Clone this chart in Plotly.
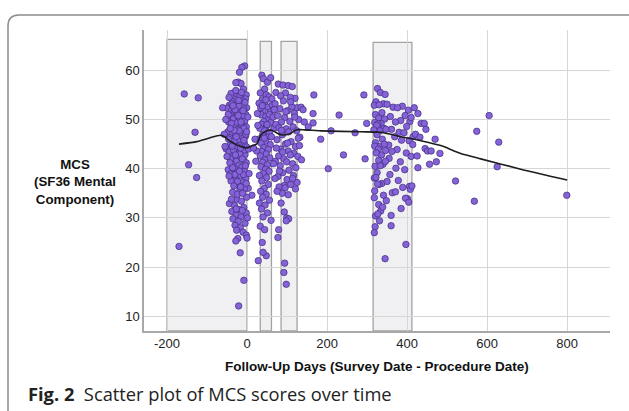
import plotly.graph_objects as go

# ---------------- data ----------------
# pre-procedure cluster (days, MCS)
pre_days = [-6,-13,-19,-22,-15,-28,-9,-2,-33,-40,-25,-18,-4,-30,-36,-12,-44,-27,-20,-1,-8,-50,-38,-32,-16,-24,-3,-42,-11,-29,-35,-19,-6,-46,-26,-14,-39,-2,-31,-22,-9,-48,-17,-36,-28,-4,-43,-12,-24,-33,-7,-39,-19,-1,-29,-52,-14,-45,-23,-5,-35,-17,-41,-9,-27,-2,-38,-21,-13,-31,-47,-6,-25,-42,-16,-34,-3,-29,-40,-11,-22,3,-7,-18,-36,12,-1,-26,-14,-44,-31,-8,-20,-38,-2,-27,-15,-35,-22,-5,-30,-17,-26,-10,-2,-23,0,-28,-17,-8,-21,
            -45,-38,-30,-22,-15,-8,-3,-41,-34,-27,-20,-10,-5,-47,-39,-32,-25,-18,-12,-6,-1,-43,-36,-30,-24,-16,-9,-4,-50,-28,-21,-14,-35,-42,-46,-57,-55,-53,2,4,5,1,-33,-24,-12,-39,-45,-19,-29,-8,-16,-37,-2,-11,-27]
pre_mcs = [60.9,60.6,59.6,57.6,57.3,57.5,56.2,55.0,55.4,55.3,55.1,54.8,54.2,54.0,53.6,53.8,52.9,53.1,52.7,52.4,52.2,52.3,51.9,51.6,51.5,51.2,51.0,50.8,50.6,50.4,50.1,49.9,49.6,49.5,49.3,49.0,48.7,48.5,48.3,48.0,47.8,47.5,47.4,47.1,46.8,46.6,46.3,46.1,45.8,45.5,45.2,44.9,44.7,44.4,44.2,44.0,43.7,43.4,43.2,42.9,42.6,42.3,42.0,41.7,41.5,41.2,40.9,40.6,40.3,40.0,39.8,39.5,39.2,38.9,38.6,38.3,38.0,37.8,37.5,37.2,36.9,36.0,35.9,35.6,35.2,34.6,34.2,33.8,33.4,32.9,32.5,32.1,31.7,31.3,31.0,30.6,30.2,29.8,29.3,28.9,28.5,28.0,27.5,27.1,26.5,25.8,25.9,25.3,22.9,17.3,12.1,
           54.5,53.2,52.0,50.8,49.5,48.2,47.0,45.0,43.8,46.5,47.7,51.8,53.5,51.0,49.2,47.8,44.5,43.0,42.0,43.8,47.5,41.2,40.2,38.8,37.4,36.3,38.8,40.6,42.5,55.9,53.9,55.5,52.8,48.2,46.0,47.0,44.5,50.0,50.5,44.0,39.0,30.0,36.5,34.8,31.5,33.8,38.5,39.5,42.8,45.8,44.2,44.6,37.0,35.0,31.8]

# early post-procedure cluster
early_days = [37,41,51,59,44,33,48,55,38,62,30,45,52,40,58,35,47,26,54,42,36,60,49,32,44,56,39,51,29,46,35,58,42,53,37,24,48,33,57,44,39,51,35,46,55,41,31,49,37,53,43,34,48,39,56,31,45,36,51,40,60,33,44,38,48,40,28,47,34,50,43,38,56,61,27,20,16,22,63,65,67]
early_mcs = [59.0,58.3,57.6,58.5,56.2,55.4,55.0,54.6,54.0,54.2,53.3,53.0,52.5,51.8,51.5,51.0,50.6,51.2,50.2,49.6,49.0,49.4,48.7,48.2,47.7,47.3,46.8,46.4,46.0,45.6,45.2,44.9,44.3,43.9,43.5,43.6,43.0,42.6,42.2,41.8,41.3,40.8,40.4,39.9,39.5,39.0,38.6,38.2,37.5,36.8,36.0,35.4,34.8,34.2,33.6,33.0,32.6,31.8,31.0,30.2,29.5,28.3,27.6,25.0,22.3,23.0,21.3,54.0,52.4,49.0,46.2,52.8,51.0,46.5,48.8,46.0,44.2,41.5,53.0,50.5,48.2]

# 3-month cluster
mid_days = [78,90,103,113,72,96,84,120,108,125,135,91,70,112,82,101,118,76,94,129,86,107,72,115,98,124,80,104,88,132,75,110,96,121,84,103,117,79,127,92,71,114,99,136,83,122,105,89,116,77,100,125,93,121,109,80,95,88,103,85,93,99,104,98,79,77,94,92,98,
            68,73,86,97,109,119,128,131,101,89,81,114,108,66,70,75,140,143]
mid_mcs = [57.2,57.0,56.9,56.7,55.5,55.4,54.8,54.3,54.5,52.4,52.5,53.8,53.2,52.6,52.2,51.8,51.3,50.8,50.4,50.0,49.5,49.6,49.0,48.5,48.1,47.7,48.3,47.5,46.9,46.4,45.9,45.5,45.0,44.5,44.0,43.6,43.1,42.6,42.5,42.0,41.5,41.0,41.4,41.8,40.6,40.2,39.7,39.2,38.6,38.4,37.8,37.2,36.6,35.9,36.8,36.3,36.1,35.0,34.7,33.0,31.2,30.0,29.8,29.4,27.6,26.0,20.8,18.9,16.5,
           52.0,44.2,47.8,51.6,53.6,50.5,46.2,44.7,45.2,43.4,39.5,38.0,42.8,41.0,38.0,35.4,52.0,49.5]

# 1-year cluster
year_days = [326,333,345,322,341,318,365,330,388,350,376,403,337,321,395,329,358,344,384,319,407,335,371,327,399,342,324,361,332,380,317,347,392,325,369,338,405,321,354,331,386,343,319,375,328,362,398,336,346,323,410,355,329,383,340,320,372,346,333,394,325,357,318,378,337,406,322,350,330,389,319,363,341,401,326,371,318,348,329,385,334,321,396,339,327,360,331,320,318,360,397,345,404,408,412,
             427,435,443,447,470,445,451,460,482,473,456,427,415,421,418,410,414,425,432]
year_mcs = [56.3,55.5,55.1,53.6,53.2,52.9,52.5,53.0,52.7,53.1,52.4,51.9,51.4,51.0,50.8,50.3,50.6,50.1,49.8,49.4,49.6,49.2,49.5,49.1,48.6,48.2,48.8,48.0,47.7,47.4,47.9,48.0,47.3,46.9,46.5,46.0,45.7,45.3,44.8,44.5,45.8,45.0,44.6,43.9,44.0,43.5,43.2,42.8,43.7,43.2,42.5,42.1,41.7,41.4,40.9,40.5,40.1,41.5,40.6,39.8,39.2,38.8,38.1,37.6,37.0,36.4,38.2,37.4,36.8,36.2,35.5,35.1,34.6,33.9,36.9,35.3,34.1,33.5,32.7,31.9,31.4,30.4,34.0,32.2,30.8,30.5,29.4,28.2,27.0,28.4,24.6,21.7,33.2,35.8,36.5,
            51.2,49.2,49.2,48.0,46.0,44.1,43.6,43.6,43.1,41.4,40.9,40.2,46.5,47.0,52.4,50.4,44.9,42.6,46.4]

# scattered responses
other_days = [-170,-157,-146,-130,-126,-122,-61,153,165,165,167,184,203,210,230,241,270,292,295,299,521,568,574,605,625,629,799]
other_mcs = [24.2,55.2,40.8,47.4,38.2,54.4,52.4,48.5,49.3,51.2,55.0,46.0,40.0,47.7,50.9,42.8,47.3,55.0,42.0,49.2,37.5,33.4,47.6,50.8,40.4,45.4,34.6]

# LOESS fit line
fit_days = [-170,-126,-96,-66,-56,-41,-16,0,14,24,34,49,62,84,104,124,144,184,284,334,384,434,484,534,584,684,800]
fit_mcs = [45.0,45.5,46.2,46.8,46.5,45.5,44.5,44.2,44.7,45.0,46.8,47.7,47.8,46.9,47.0,47.9,47.9,47.7,47.5,47.4,46.5,45.7,44.7,43.1,42.0,39.9,37.7]

# survey windows (day ranges) and their heights
win_start = [-200, 33, 85, 315]
win_end = [0, 61, 125, 412]
win_top = [66.3, 65.9, 65.9, 65.7]

x_ticks = [-200, 0, 200, 400, 600, 800]
y_ticks = [10, 20, 30, 40, 50, 60]

# ---------------- figure ----------------
all_days = pre_days + early_days + mid_days + year_days + other_days
all_mcs = pre_mcs + early_mcs + mid_mcs + year_mcs + other_mcs

fig = go.Figure()
fig.add_trace(go.Scatter(
    x=all_days, y=all_mcs, mode="markers",
    marker=dict(size=6.5, color="#8662d9", line=dict(color="#3e2d7c", width=0.7)),
    showlegend=False, hoverinfo="skip"))
fig.add_trace(go.Scatter(
    x=fit_days, y=fit_mcs, mode="lines", line=dict(color="#1e1e1e", width=1.6, shape="spline", smoothing=0.6),
    showlegend=False, hoverinfo="skip"))

Y0 = 7.0
for s, e, t in zip(win_start, win_end, win_top):
    fig.add_shape(type="rect", xref="x", yref="y", x0=s, x1=e, y0=Y0, y1=t,
                  fillcolor="#f0f0f2", line=dict(color="#a3a3a3", width=1.3), layer="below")

# outer card frame (paper coords: plot area 144..610 x, 30..331 y px)
def px(xp):
    return (xp - 144) / 466.0
def py(yp):
    return (331 - yp) / 301.0
path = (f"M {px(8)} {py(430)} L {px(8)} {py(26)} "
        f"Q {px(8)} {py(15)} {px(19)} {py(15)} L {px(650)} {py(15)}")
fig.add_shape(type="path", xref="paper", yref="paper", path=path,
              line=dict(color="#8c8c8c", width=1.5))

fig.add_annotation(xref="paper", yref="paper", x=px(75), y=py(181.5), xanchor="center", yanchor="middle",
                   text="<b>MCS<br>(SF36 Mental<br>Component)</b>", showarrow=False, align="center",
                   font=dict(family="Liberation Sans, Arial", size=13.3, color="#111"))
fig.add_annotation(xref="paper", yref="paper", x=px(377), y=py(367), xanchor="center", yanchor="middle",
                   text="<b>Follow-Up Days (Survey Date - Procedure Date)</b>", showarrow=False,
                   font=dict(family="Liberation Sans, Arial", size=13.5, color="#111"))
fig.add_annotation(xref="paper", yref="paper", x=px(26), y=py(393), xanchor="left", yanchor="middle",
                   text="<b>Fig. 2</b>  Scatter plot of MCS scores over time", showarrow=False,
                   font=dict(family="Open Sans", size=18.3, color="#222"))

fig.update_layout(
    width=629, height=411,
    margin=dict(l=144, r=19, t=30, b=80),
    paper_bgcolor="white", plot_bgcolor="white",
    xaxis=dict(range=[-257.5, 907], tickvals=x_ticks, ticktext=[str(v) for v in x_ticks],
               showgrid=True, gridcolor="#d6d6d6", gridwidth=1, zeroline=False,
               showline=True, linecolor="#a8a8a8", linewidth=1.5, ticks="",
               tickfont=dict(family="Liberation Sans, Arial", size=13, color="#222")),
    yaxis=dict(range=[Y0, 68.2], tickvals=y_ticks, ticktext=[str(v) for v in y_ticks],
               showgrid=True, gridcolor="#d6d6d6", gridwidth=1, zeroline=False,
               showline=True, linecolor="#a8a8a8", linewidth=1.5, ticks="",
               tickfont=dict(family="Liberation Sans, Arial", size=13, color="#222")),
)

fig.write_html("out.html", config={"displayModeBar": False},
               post_script="document.body.style.margin='0';document.body.style.overflow='hidden';")
